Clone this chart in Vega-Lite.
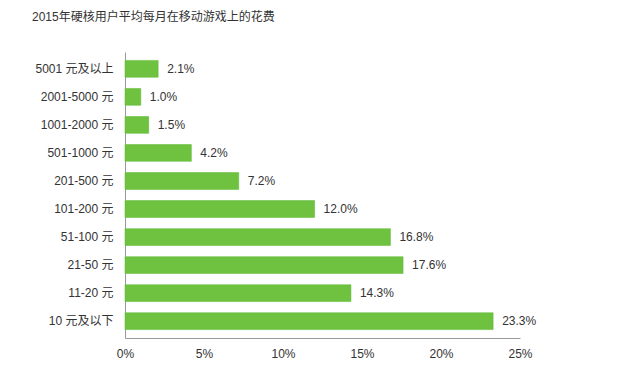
{
  "$schema": "https://vega.github.io/schema/vega-lite/v6.json",
  "width": 395,
  "height": 286,
  "autosize": {"type": "none"},
  "padding": {"left": 125, "top": 52, "right": 110, "bottom": 51},
  "background": "white",
  "title": {
    "text": "2015年硬核用户平均每月在移动游戏上的花费",
    "anchor": "start",
    "frame": "group",
    "dx": -93,
    "offset": 28,
    "font": "Liberation Sans, Noto Sans CJK SC",
    "fontSize": 12,
    "fontWeight": "normal",
    "color": "#333333"
  },
  "config": {
    "view": {"stroke": null},
    "font": "Liberation Sans, Noto Sans CJK SC"
  },
  "data": {
    "values": [
      {"range": "5001 元及以上", "value": 0.021},
      {"range": "2001-5000 元", "value": 0.010},
      {"range": "1001-2000 元", "value": 0.015},
      {"range": "501-1000 元", "value": 0.042},
      {"range": "201-500 元", "value": 0.072},
      {"range": "101-200 元", "value": 0.120},
      {"range": "51-100 元", "value": 0.168},
      {"range": "21-50 元", "value": 0.176},
      {"range": "11-20 元", "value": 0.143},
      {"range": "10 元及以下", "value": 0.233}
    ]
  },
  "encoding": {
    "y": {
      "field": "range",
      "type": "nominal",
      "sort": null,
      "scale": {"paddingInner": 0.4, "paddingOuter": 0.3},
      "axis": {
        "title": null,
        "ticks": false,
        "labelPadding": 12,
        "labelFontSize": 12,
        "labelColor": "#333333",
        "domainColor": "#999999",
        "labelFont": "Liberation Sans, Noto Sans CJK SC"
      }
    },
    "x": {
      "field": "value",
      "type": "quantitative",
      "scale": {"domain": [0, 0.25]},
      "axis": {
        "title": null,
        "values": [0, 0.05, 0.1, 0.15, 0.2, 0.25],
        "format": ".0%",
        "ticks": false,
        "grid": false,
        "labelPadding": 10,
        "labelFontSize": 12,
        "labelColor": "#333333",
        "domainColor": "#999999",
        "labelFlush": false
      }
    }
  },
  "layer": [
    {
      "mark": {"type": "bar", "color": "#6EC240", "stroke": "#5DB830", "strokeWidth": 0.5}
    },
    {
      "mark": {"type": "text", "align": "left", "dx": 9, "fontSize": 12, "color": "#333333"},
      "encoding": {
        "text": {"field": "value", "type": "quantitative", "format": ".1%"}
      }
    }
  ]
}
